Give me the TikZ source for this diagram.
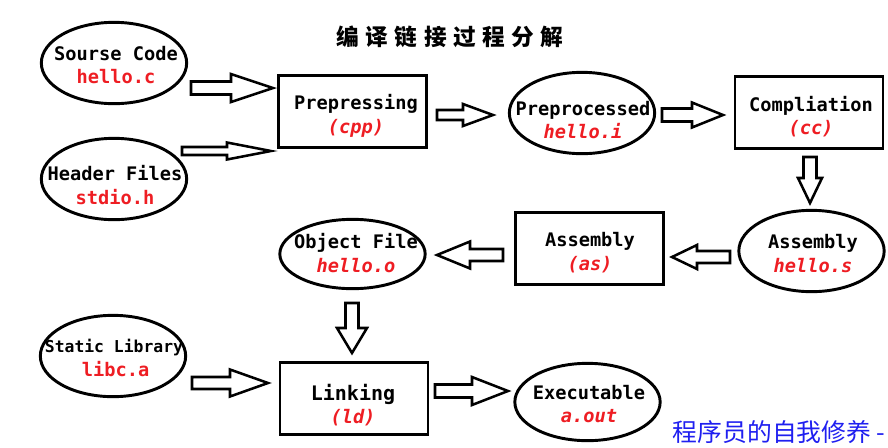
\documentclass[tikz,border=0pt]{standalone}
\usepackage{fontspec}
\setmonofont{DejaVu Sans Mono}[BoldFont={DejaVu Sans Mono Bold},ItalicFont={DejaVu Sans Mono Oblique},BoldItalicFont={DejaVu Sans Mono Bold Oblique}]
\newfontfamily\cjk{Noto Sans CJK SC}
\usepackage{tikz}
\usetikzlibrary{shapes.geometric}
\definecolor{hot}{HTML}{EE1D23}
\definecolor{sign}{HTML}{1F1FF0}
\tikzset{
  pics/blockarrow/.style args={#1/#2/#3/#4}{code={
    \draw[line width=1.9pt,line join=miter,fill=white] (0,-#3) -- (#1,-#3) -- (#1,-#4) -- (#2,0) -- (#1,#4) -- (#1,#3) -- (0,#3) -- cycle;
  }}
}

\begin{document}
\begin{tikzpicture}[x=0.75pt,y=-0.75pt,line width=2.2pt,
  data/.style={draw,ellipse,inner sep=0pt,minimum width=109pt,minimum height=61pt},
  stage/.style={draw,rectangle,inner sep=0pt,minimum width=111pt,minimum height=54pt},
  txt/.style={inner sep=0pt,align=center,font=\ttfamily\bfseries\fontsize{14}{17.6}\selectfont}]
\useasboundingbox (0,0) rectangle (888,447);
\node[font=\cjk\bfseries\fontsize{17}{20}\selectfont\addfontfeature{LetterSpace=29}] (title) at (450,37) {编译链接过程分解};
% inputs on the left
\node[data] (src) at (114,63) {};
\node[txt] (src-t) at (116,65) {Sourse Code\\\textcolor{hot}{hello.c}};
\node[data] (hdr) at (114,179) {};
\node[txt] (hdr-t) at (115,185) {Header Files\\\textcolor{hot}{stdio.h}};
\node[data] (lib) at (113,356) {};
\node[txt] (lib-t) at (114,358) {{\fontsize{12.3}{17.6}\selectfont Static Library}\\\textcolor{hot}{\,libc.a}};
% stages and their outputs
\node[stage] (cpp) at (352.5,111.5) {};
\node[txt] (cpp-t) at (356,116) {Prepressing\\\textcolor{hot}{\itshape(cpp)}};
\node[data] (pre) at (582,113) {};
\node[txt] (pre-t) at (583,120) {Preprocessed\\\textcolor{hot}{\itshape hello.i}};
\node[stage] (cc) at (809,112.5) {};
\node[txt] (cc-t) at (811,116.5) {Compliation\\\textcolor{hot}{\itshape(cc)}};
\node[data] (asm) at (811.5,251) {};
\node[txt] (asm-t) at (813,253.5) {Assembly\\\textcolor{hot}{\itshape hello.s}};
\node[stage] (as) at (589.5,248.5) {};
\node[txt] (as-t) at (590,252.5) {Assembly\\\textcolor{hot}{\itshape(as)}};
\node[data,minimum height=52pt] (obj) at (352.5,254) {};
\node[txt] (obj-t) at (356,253) {Object File\\\textcolor{hot}{\itshape hello.o}};
\node[stage] (ld) at (354,398.5) {};
\node[txt] (ld-t) at (353,405) {{\fontsize{15}{17.6}\selectfont Linking}\\\textcolor{hot}{\itshape(ld)}};
\node[data,minimum height=58pt] (exe) at (587.5,402) {};
\node[txt] (exe-t) at (589,404) {Executable\\\textcolor{hot}{\itshape a.out}};
% hollow block arrows
\pic at (191,88) {blockarrow={40/82/6.5/14}};
\pic at (182,151) {blockarrow={45/89/4/8.5}};
\pic at (437,115) {blockarrow={26/56/5/11}};
\pic at (662,115) {blockarrow={30/61/6.5/12.5}};
\pic[rotate=-90] at (810,157) {blockarrow={21/46/6.5/12}};
\pic[rotate=180] at (730,257) {blockarrow={33/58/6/12}};
\pic[rotate=180] at (503,255) {blockarrow={33/66/6/13.5}};
\pic[rotate=-90] at (352,303) {blockarrow={25/50/6.5/15}};
\pic at (192,383) {blockarrow={38/76/6/13.5}};
\pic at (435,391) {blockarrow={37/73/6.5/14}};
\node[anchor=east,inner sep=0pt,text=sign,font=\cjk\fontsize{18.6}{20}\selectfont] (sign) at (887,432) {程序员的自我修养 -};
\end{tikzpicture}
\end{document}
